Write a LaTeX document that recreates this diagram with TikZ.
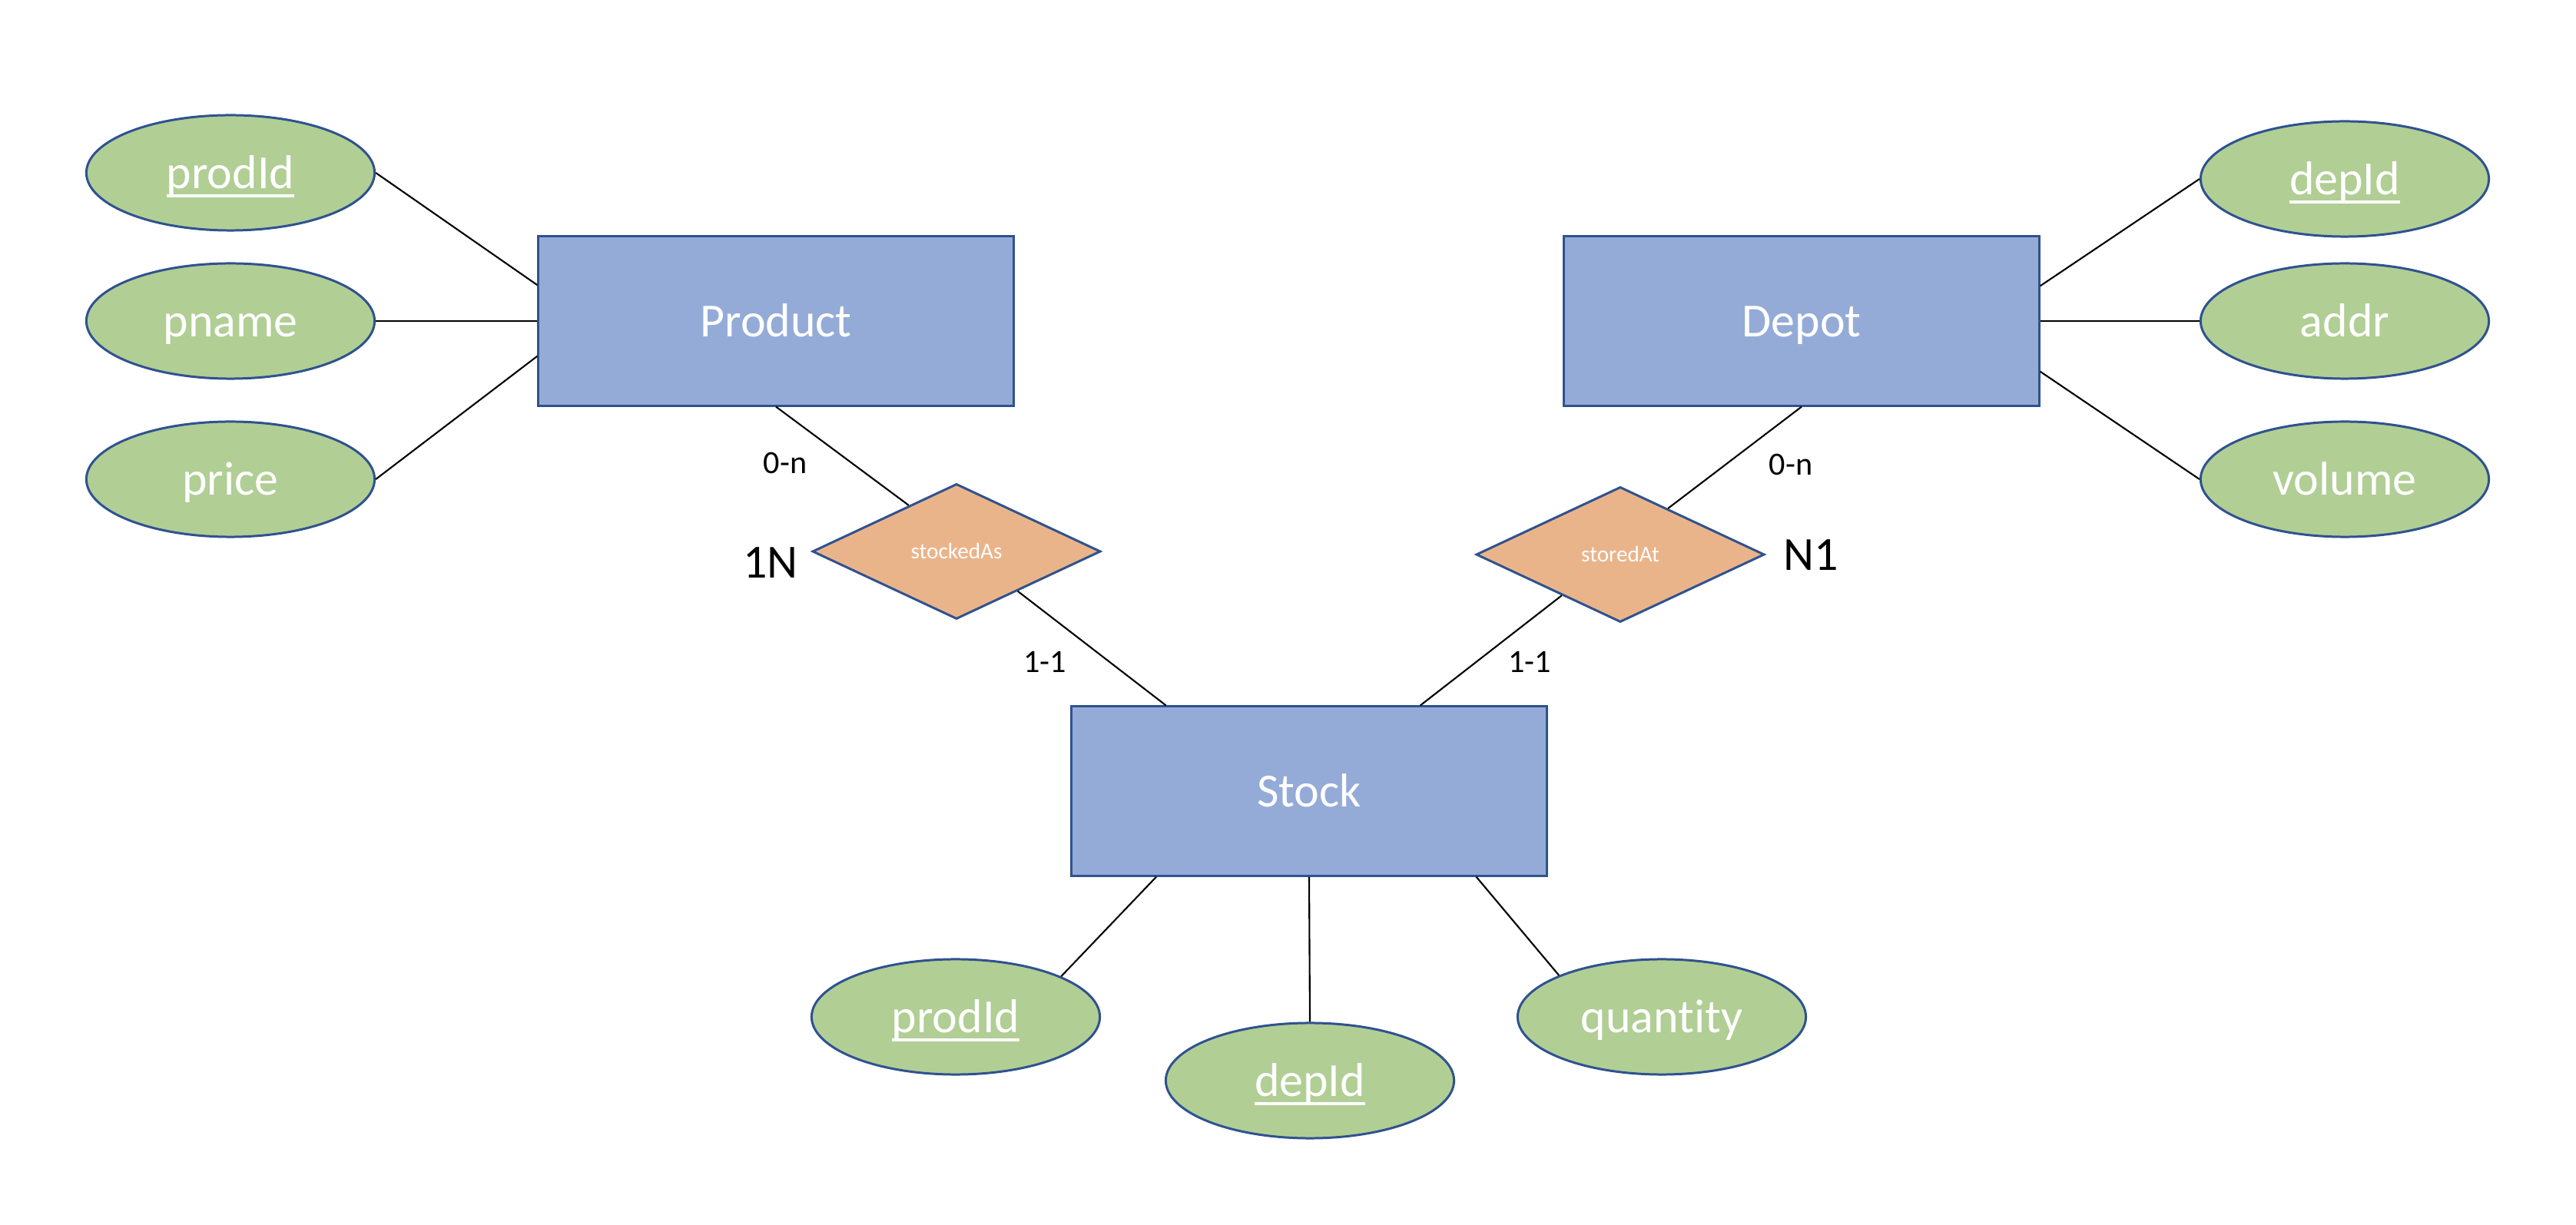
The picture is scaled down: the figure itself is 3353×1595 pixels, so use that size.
\documentclass[tikz,border=0pt]{standalone}
\usepackage{fontspec}
\setmainfont{Carlito}[RawFeature={-liga}]
\usetikzlibrary{shapes.geometric,calc}
\definecolor{entfill}{RGB}{149,171,215}
\definecolor{attfill}{RGB}{177,206,149}
\definecolor{relfill}{RGB}{234,180,138}
\definecolor{edgeblue}{RGB}{47,82,143}
\newsavebox\ulbox
\newcommand{\ulin}[1]{\sbox\ulbox{#1}\rlap{\rule[-0.19em]{\wd\ulbox}{0.065em}}\usebox\ulbox}
\tikzset{
  entity/.style={rectangle, draw=edgeblue, fill=entfill, line width=0.85pt,
    minimum width=6.18cm, minimum height=2.2cm, inner sep=0pt, text=white,
    font=\fontsize{17.6}{20}\selectfont, text height=11.4pt, text depth=0pt},
  attrib/.style={ellipse, draw=edgeblue, fill=attfill, line width=0.85pt,
    minimum width=3.75cm, minimum height=1.5cm, inner sep=0pt, text=white,
    font=\fontsize{17.6}{20}\selectfont, text height=11.4pt, text depth=0pt},
  relat/.style={diamond, draw=edgeblue, fill=relfill, line width=0.85pt,
    minimum width=3.75cm, minimum height=1.76cm, inner sep=0pt, text=white,
    font=\fontsize{8.3}{10}\selectfont, text height=5.4pt, text depth=0pt},
  conn/.style={draw=black, line width=0.6pt},
  card/.style={inner sep=0pt, font=\fontsize{12}{14}\selectfont},
  bigcard/.style={inner sep=0pt, font=\fontsize{17.6}{20}\selectfont}
}
\begin{document}
\begin{tikzpicture}[x=0.01cm,y=-0.01cm]
\path[use as bounding box] (0,0) rectangle (3353,1595);
% entities
\node[entity] (product) at (1010,418) {Product};
\node[entity] (depot) at (2345,418) {Depot};
\node[entity] (stock) at (1704,1030) {Stock};
% attributes
\node[attrib] (prodIdA) at (300,225) {\ulin{prodId}};
\node[attrib] (pname) at (300,418) {pname};
\node[attrib] (price) at (300,624) {price};
\node[attrib] (depIdA) at (3052,233) {\ulin{depId}};
\node[attrib] (addr) at (3052,418) {addr};
\node[attrib] (volume) at (3052,624) {volume};
\node[attrib] (prodIdB) at (1244,1324) {\ulin{prodId}};
\node[attrib] (depIdB) at (1705,1407) {\ulin{depId}};
\node[attrib] (quantity) at (2163,1324) {quantity};
% relationships
\node[relat] (stockedAs) at (1245,718) {stockedAs};
\node[relat] (storedAt) at (2109,722) {storedAt};
% cardinality labels
\node[card] (c1) at (1022,603) {0-n};
\node[card] (c2) at (2331,605) {0-n};
\node[card] (c3) at (1360,862) {1-1};
\node[card] (c4) at (1991,862) {1-1};
\node[bigcard] (c5) at (1003,733) {1N};
\node[bigcard] (c6) at (2357,723) {N1};
% connectors: product attributes
\draw[conn] (prodIdA.east) -- ($(product.north west)!0.29!(product.south west)$);
\draw[conn] (pname.east) -- (product.west);
\draw[conn] (price.east) -- ($(product.north west)!0.705!(product.south west)$);
% depot attributes
\draw[conn] ($(depot.north east)!0.295!(depot.south east)$) -- (depIdA.west);
\draw[conn] (depot.east) -- (addr.west);
\draw[conn] ($(depot.north east)!0.795!(depot.south east)$) -- (volume.west);
% relationships
\draw[conn] (product.south) -- (stockedAs.136);
\draw[conn] (stockedAs.-33) -- ($(stock.north west)!0.2!(stock.north east)$);
\draw[conn] (depot.south) -- (storedAt.44.5);
\draw[conn] (storedAt.215.6) -- ($(stock.north west)!0.733!(stock.north east)$);
% stock attributes
\draw[conn] ($(stock.south west)!0.18!(stock.south east)$) -- (prodIdB.21);
\draw[conn] (stock.south) -- (depIdB.north);
\draw[conn] ($(stock.south west)!0.85!(stock.south east)$) -- (quantity.158.5);
\end{tikzpicture}
\end{document}
